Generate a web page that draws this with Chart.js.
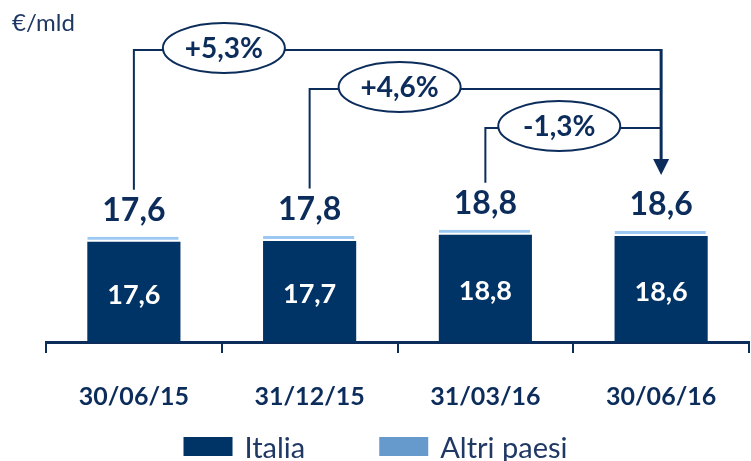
<!DOCTYPE html>
<html>
<head>
<meta charset="utf-8">
<script src="https://cdn.jsdelivr.net/npm/chart.js@4.4.1/dist/chart.umd.min.js"></script>
<style>
  html, body { margin: 0; padding: 0; background: #fff; }
  #wrap { width: 751px; height: 461px; }
</style>
</head>
<body>
<div id="wrap"><canvas id="chart"></canvas></div>
<script>
// Data
const dates = ['30/06/15', '31/12/15', '31/03/16', '30/06/16'];
const italia = [17.6, 17.7, 18.8, 18.6];
const altriPaesi = [0.04, 0.1, 0.04, 0.04];
const totals = [17.6, 17.8, 18.8, 18.6];
const changeFrom = [0, 1, 2];   // each compared with the last date
const changeLabels = ['+5,3%', '+4,6%', '-1,3%'];
const unitLabel = '€/mld';

const NAVY = '#003366';
const INK = '#0c2d5b';
const LIGHT = '#9cc8f2';
const LEGEND_LIGHT = '#6699cc';
const FONT = 'Lato, "Open Sans", sans-serif';

const fmt = v => v.toFixed(1).replace('.', ',');

// Labels, comparison brackets and legend drawn on top of the bars
const overlay = {
    id: 'overlay',
    afterDatasetsDraw(chart) {
        const { ctx, chartArea, scales: { x, y } } = chart;
        ctx.save();
        ctx.textAlign = 'center';
        ctx.textBaseline = 'middle';

        // values inside the bars
        ctx.fillStyle = '#ffffff';
        ctx.font = `bold 27px ${FONT}`;
        italia.forEach((v, i) => {
            ctx.fillText(fmt(v), x.getPixelForValue(i), y.getPixelForValue(v / 2) + 3);
        });

        // totals above the bars
        ctx.fillStyle = INK;
        ctx.font = `bold 32px ${FONT}`;
        const barTop = i => y.getPixelForValue(totals[i]) - 5;
        totals.forEach((v, i) => {
            ctx.fillText(fmt(v), x.getPixelForValue(i), barTop(i) - 26);
        });

        // brackets with change ellipses
        const last = dates.length - 1;
        const xt = x.getPixelForValue(last);
        ctx.strokeStyle = INK;
        ctx.lineWidth = 2;
        changeFrom.forEach((i, k) => {
            const xs = x.getPixelForValue(i);
            const ly = chartArea.top + 50 + k * 39;
            ctx.beginPath();
            ctx.moveTo(xs, barTop(i) - 47);
            ctx.lineTo(xs, ly);
            ctx.lineTo(xt, ly);
            ctx.stroke();

            const cx = xs + Math.min(90, (xt - xs) / 2 - 14);
            ctx.beginPath();
            ctx.ellipse(cx, ly - 2, 61, 25, 0, 0, Math.PI * 2);
            ctx.fillStyle = '#ffffff';
            ctx.fill();
            ctx.stroke();
            ctx.fillStyle = INK;
            ctx.font = `bold 28px ${FONT}`;
            ctx.fillText(changeLabels[k], cx, ly - 1);
        });

        // arrow down to the last bar
        const tip = barTop(last) - 56;
        const top = chartArea.top + 50;
        ctx.lineWidth = 3;
        ctx.beginPath();
        ctx.moveTo(xt, top - 1);
        ctx.lineTo(xt, tip - 14);
        ctx.stroke();
        ctx.beginPath();
        ctx.moveTo(xt - 8, tip - 16);
        ctx.lineTo(xt + 8, tip - 16);
        ctx.lineTo(xt, tip);
        ctx.closePath();
        ctx.fillStyle = INK;
        ctx.fill();

        // unit
        ctx.textAlign = 'left';
        ctx.fillStyle = '#1f3864';
        ctx.font = `24px ${FONT}`;
        ctx.fillText(unitLabel, 12, 23);

        // legend
        ctx.font = `29px ${FONT}`;
        ctx.textBaseline = 'alphabetic';
        const items = chart.data.datasets.map(ds => ({ label: ds.label, color: ds.legendColor }));
        const sw = 49, gap = 12, between = 74;
        const widths = items.map(it => sw + gap + ctx.measureText(it.label).width);
        let lx = (chart.width - widths.reduce((a, b) => a + b, 0) - between * (items.length - 1)) / 2;
        items.forEach((it, n) => {
            ctx.fillStyle = it.color;
            ctx.fillRect(lx, 437, sw, 19);
            ctx.fillStyle = '#1f3864';
            ctx.fillText(it.label, lx + sw + gap, 458);
            lx += widths[n] + between;
        });
        ctx.restore();
    }
};

new Chart(document.getElementById('chart'), {
    type: 'bar',
    data: {
        labels: dates,
        datasets: [
            {
                label: 'Italia',
                data: italia,
                backgroundColor: NAVY,
                legendColor: NAVY,
                borderWidth: 0
            },
            {
                label: 'Altri paesi',
                data: altriPaesi,
                backgroundColor: LIGHT,
                legendColor: LEGEND_LIGHT,
                borderColor: '#ffffff',
                borderWidth: { top: 0, left: 0, right: 2, bottom: 2 },
                borderSkipped: false,
                minBarLength: 5
            }
        ]
    },
    options: {
        responsive: true,
        maintainAspectRatio: false,
        animation: false,
        layout: { padding: { left: 46, right: 2, top: 0, bottom: 20 } },
        datasets: { bar: { categoryPercentage: 1, barPercentage: 0.53 } },
        plugins: { legend: { display: false }, tooltip: { enabled: false } },
        scales: {
            x: {
                stacked: true,
                grid: { drawOnChartArea: false, drawTicks: true, tickLength: 11, color: INK, lineWidth: 2 },
                border: { display: true, color: INK, width: 3 },
                ticks: { color: INK, font: { family: FONT, size: 25, weight: 'bold' }, padding: 29 }
            },
            y: { stacked: true, display: false, min: 0, max: 60 }
        }
    },
    plugins: [overlay]
});
</script>
</body>
</html>
